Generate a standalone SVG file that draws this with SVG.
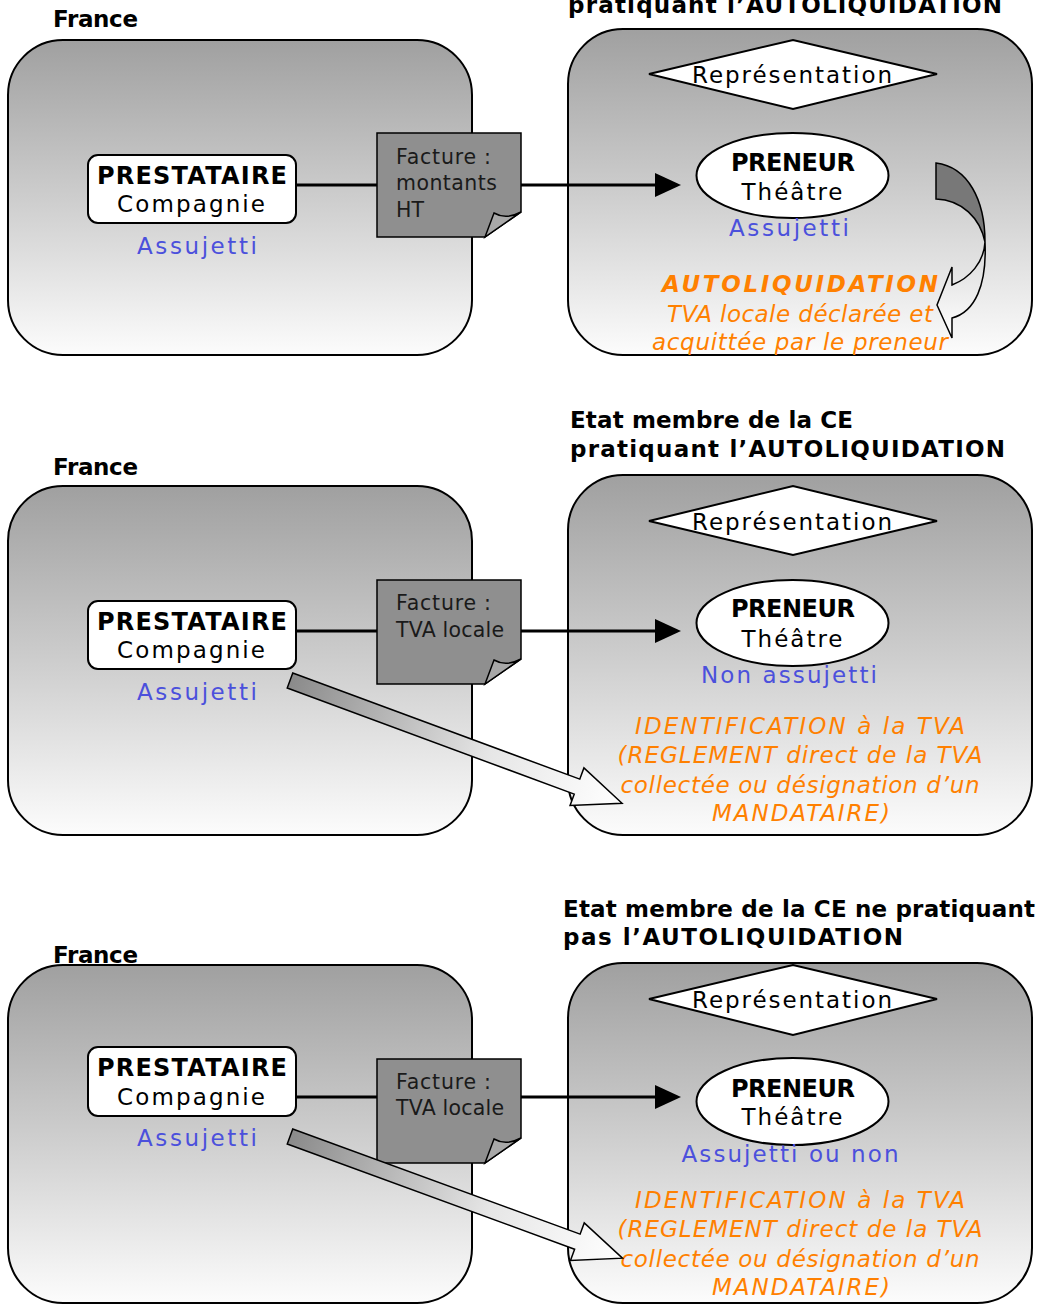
<svg xmlns="http://www.w3.org/2000/svg" width="1038" height="1304" viewBox="0 0 1038 1304">
<style>
  text { font-family: "DejaVu Sans", Verdana, sans-serif; }
  .zone { stroke: #000; stroke-width: 2; fill: url(#zoneGrad); }
  .ttl { font-size: 23px; font-weight: bold; fill: #000; }
  .pbox { fill: #fff; stroke: #000; stroke-width: 2; }
  .bold { font-size: 24px; font-weight: bold; fill: #000; text-anchor: middle; }
  .reg { font-size: 23px; fill: #000; text-anchor: middle; }
  .blue { font-size: 23px; fill: #4b50dc; text-anchor: middle; }
  .orange { font-size: 23px; font-style: italic; fill: #ff8000; text-anchor: middle; }
  .orangeb { font-size: 23px; font-style: italic; font-weight: bold; fill: #ff8000; text-anchor: middle; }
  .note { fill: #8f8f8f; stroke: #000; stroke-width: 1.5; }
  .fold { fill: #a8a8a8; stroke: #000; stroke-width: 1.5; }
  .ntxt { font-size: 20.5px; fill: #1a1a1a; }
  .diam { fill: #fff; stroke: #000; stroke-width: 2; }
  .ell { fill: #fff; stroke: #000; stroke-width: 2; }
  .link { stroke: #000; stroke-width: 3; fill: none; }
  .head { fill: #000; }
  .fat { fill: url(#fatGrad); stroke: #000; stroke-width: 1.5; }
</style>
<defs>
  <linearGradient id="zoneGrad" x1="0" y1="0" x2="0" y2="1">
    <stop offset="0" stop-color="#a0a0a0"/>
    <stop offset="0.5" stop-color="#cdcdcd"/>
    <stop offset="1" stop-color="#fcfcfc"/>
  </linearGradient>
  <linearGradient id="fatGrad" gradientUnits="userSpaceOnUse" x1="0" y1="0" x2="354" y2="0">
    <stop offset="0" stop-color="#8a8a8a"/>
    <stop offset="0.6" stop-color="#e6e6e6"/>
    <stop offset="1" stop-color="#ffffff"/>
  </linearGradient>
  <linearGradient id="curlGrad" x1="0" y1="0" x2="0" y2="1">
    <stop offset="0" stop-color="#d8d8d8"/>
    <stop offset="1" stop-color="#ffffff"/>
  </linearGradient>
</defs>

<!-- ===== Panel 1 ===== -->
<g id="france1">
  <text class="ttl" x="53" y="27" textLength="85">France</text>
  <rect class="zone" x="8" y="40" width="464" height="315" rx="55"/>
</g>
<g id="etat1">
  <text class="ttl" x="568" y="13" textLength="434">pratiquant l’AUTOLIQUIDATION</text>
  <rect class="zone" x="568" y="29" width="464" height="326" rx="55"/>
</g>

<!-- ===== Panel 2 ===== -->
<g id="france2">
  <text class="ttl" x="53" y="475" textLength="85">France</text>
  <rect class="zone" x="8" y="486" width="464" height="349" rx="55"/>
</g>
<g id="etat2">
  <text class="ttl" x="570" y="428" textLength="283">Etat membre de la CE</text>
  <text class="ttl" x="570" y="457" textLength="435">pratiquant l’AUTOLIQUIDATION</text>
  <rect class="zone" x="568" y="475" width="464" height="360" rx="55"/>
</g>

<!-- ===== Panel 3 ===== -->
<g id="etat3">
  <text class="ttl" x="563" y="917" textLength="472">Etat membre de la CE ne pratiquant</text>
  <text class="ttl" x="563" y="945" textLength="340">pas l’AUTOLIQUIDATION</text>
  <rect class="zone" x="568" y="963" width="464" height="340" rx="55"/>
</g>
<g id="france3">
  <rect class="zone" x="8" y="965" width="464" height="338" rx="55"/>
  <text class="ttl" x="53" y="963" textLength="85">France</text>
</g>

<!-- connectors -->
<g id="connectors">
  <line class="link" x1="296" y1="185" x2="658" y2="185"/>
  <polygon class="head" points="655,173 681,185 655,197"/>
  <line class="link" x1="296" y1="631" x2="658" y2="631"/>
  <polygon class="head" points="655,619 681,631 655,643"/>
  <line class="link" x1="296" y1="1097" x2="658" y2="1097"/>
  <polygon class="head" points="655,1085 681,1097 655,1109"/>
</g>

<!-- Prestataire nodes -->
<g id="prestataire1">
  <rect class="pbox" x="88" y="155" width="208" height="68" rx="10"/>
  <text class="bold" x="192" y="184" textLength="190">PRESTATAIRE</text>
  <text class="reg" x="191" y="212" textLength="148">Compagnie</text>
  <text class="blue" x="197" y="254" textLength="120">Assujetti</text>
</g>
<g id="prestataire2">
  <rect class="pbox" x="88" y="601" width="208" height="68" rx="10"/>
  <text class="bold" x="192" y="630" textLength="190">PRESTATAIRE</text>
  <text class="reg" x="191" y="658" textLength="148">Compagnie</text>
  <text class="blue" x="197" y="700" textLength="120">Assujetti</text>
</g>
<g id="prestataire3">
  <rect class="pbox" x="88" y="1047" width="208" height="69" rx="10"/>
  <text class="bold" x="192" y="1076" textLength="190">PRESTATAIRE</text>
  <text class="reg" x="191" y="1105" textLength="148">Compagnie</text>
  <text class="blue" x="197" y="1146" textLength="120">Assujetti</text>
</g>

<!-- Facture notes -->
<g id="facture1">
  <path class="note" d="M377,133 H521 V212 L485,237 H377 Z"/>
  <path class="fold" d="M485,237 L494,213 Q506,220 521,212 Z"/>
  <text class="ntxt" x="396" y="164" textLength="95">Facture :</text>
  <text class="ntxt" x="396" y="190" textLength="101">montants</text>
  <text class="ntxt" x="396" y="217">HT</text>
</g>
<g id="facture2">
  <path class="note" d="M377,580 H521 V659 L485,684 H377 Z"/>
  <path class="fold" d="M485,684 L494,660 Q506,667 521,659 Z"/>
  <text class="ntxt" x="396" y="610" textLength="95">Facture :</text>
  <text class="ntxt" x="396" y="637" textLength="108">TVA locale</text>
</g>
<g id="facture3">
  <path class="note" d="M377,1059 H521 V1138 L485,1163 H377 Z"/>
  <path class="fold" d="M485,1163 L494,1139 Q506,1146 521,1138 Z"/>
  <text class="ntxt" x="396" y="1089" textLength="95">Facture :</text>
  <text class="ntxt" x="396" y="1115" textLength="108">TVA locale</text>
</g>

<!-- Representation diamonds -->
<g id="representation1">
  <polygon class="diam" points="649,74 793,40 937,74 793,109"/>
  <text class="reg" x="792" y="83" textLength="200">Représentation</text>
</g>
<g id="representation2">
  <polygon class="diam" points="649,521 793,486 937,521 793,555"/>
  <text class="reg" x="792" y="530" textLength="200">Représentation</text>
</g>
<g id="representation3">
  <polygon class="diam" points="649,999 793,965 937,999 793,1035"/>
  <text class="reg" x="792" y="1008" textLength="200">Représentation</text>
</g>

<!-- Preneur nodes -->
<g id="preneur1">
  <ellipse class="ell" cx="792.5" cy="175.5" rx="96" ry="42.5"/>
  <text class="bold" x="793" y="171" textLength="124">PRENEUR</text>
  <text class="reg" x="792" y="200" textLength="101">Théâtre</text>
  <text class="blue" x="789" y="236" textLength="120">Assujetti</text>
</g>
<g id="preneur2">
  <ellipse class="ell" cx="792.5" cy="623" rx="96" ry="43"/>
  <text class="bold" x="793" y="617" textLength="124">PRENEUR</text>
  <text class="reg" x="792" y="647" textLength="101">Théâtre</text>
  <text class="blue" x="789" y="683" textLength="176">Non assujetti</text>
</g>
<g id="preneur3">
  <ellipse class="ell" cx="792.5" cy="1101.5" rx="96" ry="43.5"/>
  <text class="bold" x="793" y="1097" textLength="124">PRENEUR</text>
  <text class="reg" x="792" y="1125" textLength="101">Théâtre</text>
  <text class="blue" x="790" y="1162" textLength="217">Assujetti ou non</text>
</g>

<!-- Autoliquidation note (panel 1) -->
<g id="autoliquidation">
  <text class="orangeb" x="800" y="292" textLength="276">AUTOLIQUIDATION</text>
  <text class="orange" x="800" y="322" textLength="266">TVA locale déclarée et</text>
  <text class="orange" x="800" y="350" textLength="296">acquittée par le preneur</text>
</g>

<!-- Identification notes -->
<g id="identification2">
  <text class="orange" x="800" y="734" textLength="330">IDENTIFICATION à la TVA</text>
  <text class="orange" x="800" y="763" textLength="365">(REGLEMENT direct de la TVA</text>
  <text class="orange" x="800" y="793" textLength="359">collectée ou désignation d’un</text>
  <text class="orange" x="801" y="821" textLength="178">MANDATAIRE)</text>
</g>
<g id="identification3">
  <text class="orange" x="800" y="1208" textLength="330">IDENTIFICATION à la TVA</text>
  <text class="orange" x="800" y="1237" textLength="365">(REGLEMENT direct de la TVA</text>
  <text class="orange" x="800" y="1267" textLength="359">collectée ou désignation d’un</text>
  <text class="orange" x="801" y="1295" textLength="178">MANDATAIRE)</text>
</g>

<!-- block arrows -->
<g id="block-arrows">
  <path d="M936,163 C968,167 985,200 985,242 C980,218 962,200 936,199 Z" fill="#787878" stroke="#000" stroke-width="1.5"/>
  <path d="M985,242 C987,285 975,312 952,318 L952,338 L937,305 L952,267 L952,285 C970,278 984,262 985,242 Z" fill="url(#curlGrad)" stroke="#000" stroke-width="1.5"/>
  <polygon class="fat" transform="translate(290,680.5) rotate(20.3)" points="0,-8 306,-8 306,-20 354,0 306,20 306,8 0,8"/>
  <polygon class="fat" transform="translate(290,1136.5) rotate(20.1)" points="0,-8 306,-8 306,-20 354,0 306,20 306,8 0,8"/>
</g>
</svg>
